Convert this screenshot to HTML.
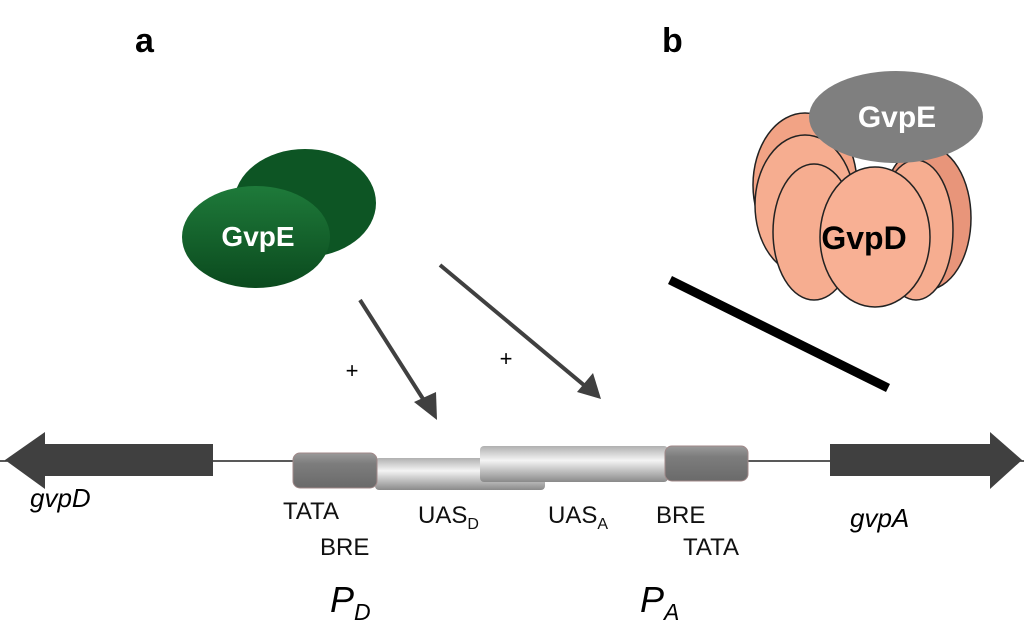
<!DOCTYPE html>
<html><head><style>body{margin:0;background:#fff}svg{display:block}</style></head><body>
<svg width="1024" height="632" xmlns="http://www.w3.org/2000/svg" font-family="Liberation Sans, Arial, sans-serif">
<defs>
<linearGradient id="g1" x1="0" y1="0" x2="0" y2="1"><stop offset="0" stop-color="#1e7a3a"/><stop offset="1" stop-color="#0b4a1e"/></linearGradient>
<linearGradient id="cyl" x1="0" y1="0" x2="0" y2="1"><stop offset="0" stop-color="#b0b0b0"/><stop offset="0.4" stop-color="#f4f4f4"/><stop offset="1" stop-color="#8a8a8a"/></linearGradient>
<linearGradient id="box" x1="0" y1="0" x2="0" y2="1"><stop offset="0" stop-color="#9a9a9a"/><stop offset="0.3" stop-color="#7d7d7d"/><stop offset="1" stop-color="#6a6a6a"/></linearGradient>
</defs>
<text x="135" y="52" font-size="34" font-weight="bold">a</text>
<text x="662" y="52" font-size="34" font-weight="bold">b</text>
<ellipse cx="305" cy="203" rx="71" ry="54" fill="#0d5524"/>
<ellipse cx="256" cy="237" rx="74" ry="51" fill="url(#g1)"/>
<text x="258" y="246" font-size="28" font-weight="bold" fill="#fff" text-anchor="middle">GvpE</text>
<g stroke="#404040" stroke-width="4"><line x1="360" y1="300" x2="425" y2="402"/><line x1="440" y1="265" x2="585" y2="386"/></g>
<polygon points="437,420 414,402 436,392" fill="#404040"/>
<polygon points="601,399 577,392 593,373" fill="#404040"/>
<text x="352" y="378" font-size="22" text-anchor="middle">+</text>
<text x="506" y="366" font-size="22" text-anchor="middle">+</text>
<line x1="670" y1="280" x2="888" y2="388" stroke="#000" stroke-width="9"/>
<line x1="0" y1="461" x2="1024" y2="461" stroke="#222" stroke-width="1.5"/>
<rect x="45" y="444" width="168" height="32" fill="#404040"/>
<polygon points="5,460 45,432 45,489" fill="#404040"/>
<rect x="830" y="444" width="162" height="32" fill="#404040"/>
<polygon points="990,432 1022,460 990,489" fill="#404040"/>
<rect x="375" y="458" width="170" height="32" rx="4" fill="url(#cyl)"/>
<rect x="480" y="446" width="188" height="36" rx="4" fill="url(#cyl)"/>
<rect x="293" y="453" width="84" height="35" rx="7" fill="url(#box)" stroke="#a08888" stroke-width="1"/>
<rect x="665" y="446" width="83" height="35" rx="7" fill="url(#box)" stroke="#a08888" stroke-width="1"/>
<g font-size="24" fill="#111">
<text x="283" y="519">TATA</text><text x="320" y="555">BRE</text>
<text x="418" y="523">UAS<tspan font-size="16" dy="6">D</tspan></text>
<text x="548" y="523">UAS<tspan font-size="16" dy="6">A</tspan></text>
<text x="656" y="523">BRE</text><text x="683" y="555">TATA</text>
</g>
<text x="30" y="507" font-size="26" font-style="italic">gvpD</text>
<text x="850" y="527" font-size="26" font-style="italic">gvpA</text>
<text x="330" y="612" font-size="36" font-style="italic">P<tspan font-size="23" dy="8">D</tspan></text>
<text x="640" y="612" font-size="36" font-style="italic">P<tspan font-size="23" dy="8">A</tspan></text>
<g stroke="#222" stroke-width="1.5">
<ellipse cx="805" cy="185" rx="52" ry="72" fill="#f2a385"/>
<ellipse cx="926" cy="218" rx="45" ry="72" fill="#e8957a"/>
<ellipse cx="805" cy="205" rx="50" ry="70" fill="#f6ad90"/>
<ellipse cx="814" cy="232" rx="41" ry="68" fill="#f6ad90"/>
<ellipse cx="916" cy="230" rx="37" ry="70" fill="#f6ad90"/>
<ellipse cx="875" cy="237" rx="55" ry="70" fill="#f8b094"/>
</g>
<ellipse cx="896" cy="117" rx="87" ry="46" fill="#7f7f7f"/>
<text x="897" y="127" font-size="30" font-weight="bold" fill="#fff" text-anchor="middle">GvpE</text>
<text x="864" y="249" font-size="32" font-weight="bold" fill="#000" text-anchor="middle">GvpD</text>
</svg>
</body></html>
